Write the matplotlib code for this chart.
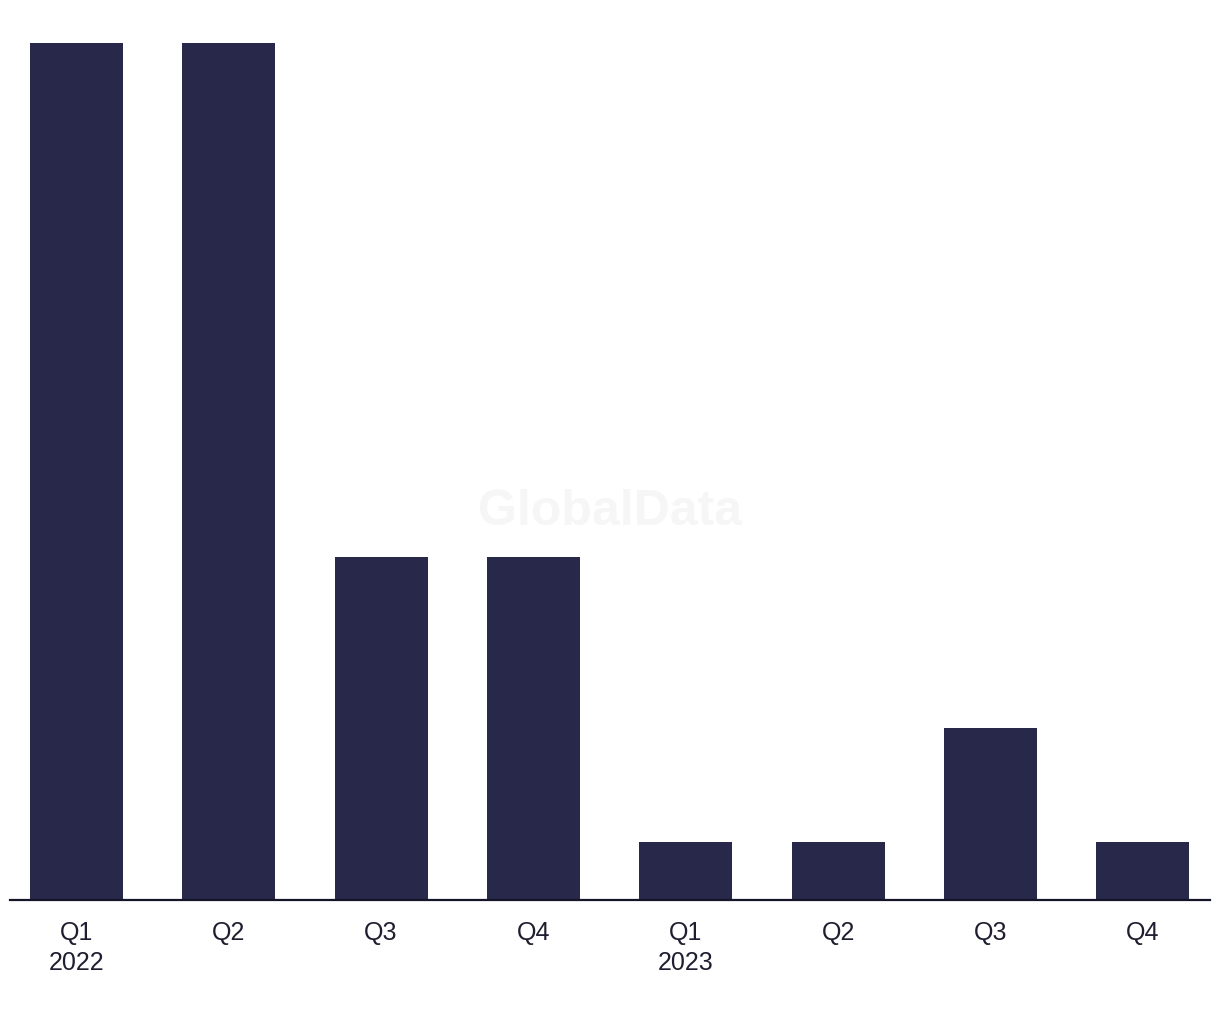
import matplotlib
matplotlib.use("Agg")
import matplotlib.pyplot as plt

categories = ["Q1\n2022", "Q2", "Q3", "Q4", "Q1\n2023", "Q2", "Q3", "Q4"]
values = [15, 15, 6, 6, 1, 1, 3, 1]

plt.rcParams['font.family'] = ['Liberation Sans', 'DejaVu Sans']

fig = plt.figure(figsize=(12.2, 10.2), dpi=100)
ax = fig.add_axes([10/1220, 119.5/1020, 1200/1220, 857/1020])
x = list(range(len(values)))
ax.bar(x, values, width=0.61, color="#28284a", zorder=2)
ax.set_xlim(-0.435, 7.44)
ax.set_ylim(0, 15)
ax.set_xticks(x)
ax.set_xticklabels(categories, fontsize=18, color="#1e1e30", linespacing=1.3)
ax.tick_params(axis='x', length=0, pad=15)
ax.set_yticks([])
for s in ["top", "right", "left"]:
    ax.spines[s].set_visible(False)
ax.spines["bottom"].set_color("#15152a")
ax.spines["bottom"].set_linewidth(1.6)
fig.text(610/1220, 1 - 512/1020, "GlobalData", ha="center", va="center",
         fontsize=36, fontweight="bold", color="#f6f6f6", zorder=0)
fig.savefig("out.png", dpi=100, facecolor="white")
